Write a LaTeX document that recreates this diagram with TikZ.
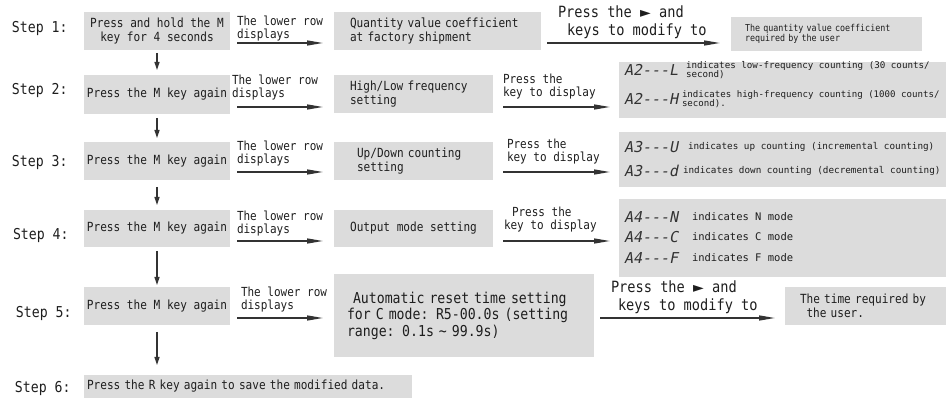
\documentclass[tikz,border=0pt]{standalone}
\usepackage{fontspec}
\usetikzlibrary{arrows.meta}
\newfontfamily\mf[FakeStretch=0.88]{DejaVu Sans Mono}
\newfontfamily\mfw{DejaVu Sans Mono}
\newfontfamily\segf[FakeSlant=0.2]{DejaVu Sans Mono}
\newfontfamily\dvs{DejaVu Sans}
\definecolor{boxgray}{HTML}{DCDCDC}
\definecolor{ink}{HTML}{1E1E1E}
\definecolor{arr}{HTML}{333333}
\newcommand\fs[2]{\fontsize{#1}{#2}\selectfont}
\newcommand\tri{{\dvs\fs{14}{12}►}}
\begin{document}
\begin{tikzpicture}[x=1pt,y=-1pt]
\tikzset{
  every node/.style={text=ink, inner sep=0pt, outer sep=0pt},
  box/.style={fill=boxgray, anchor=north west},
  steplbl/.style={anchor=west, font=\mf\fs{15}{16}},
  btxt/.style={font=\mf\fs{12.6}{14}},
  lbl/.style={anchor=west, align=left, font=\mf\fs{12.5}{13}},
  biglbl/.style={anchor=west, align=left, font=\mf\fs{15.5}{18}},
  codetxt/.style={anchor=west, font=\segf\fs{15}{16}, text=arr},
  small/.style={anchor=west, align=left, font=\mfw\fs{9.2}{9}},
  harrow/.style={draw=arr, line width=1.4pt, -{Triangle[length=16pt,width=5pt]}},
  varrow/.style={draw=arr, line width=1.3pt, -{Triangle[length=8pt,width=5pt]}},
}
\useasboundingbox (0,0) rectangle (946,398);

% step labels
\node[steplbl] (s1) at (12,28) {Step 1:};
\node[steplbl] (s2) at (12,90) {Step 2:};
\node[steplbl] (s3) at (12,162) {Step 3:};
\node[steplbl] (s4) at (13,235) {Step 4:};
\node[steplbl] (s5) at (16,313) {Step 5:};
\node[steplbl] (s6) at (15,388) {Step 6:};

% left boxes
\node[box, minimum width=146pt, minimum height=38pt, align=center, btxt] (b1) at (84,12) {Press and hold the M\\key for 4 seconds};
\node[box, minimum width=146pt, minimum height=39pt, btxt] (b2) at (84,75) {Press the M key again};
\node[box, minimum width=146pt, minimum height=38pt, btxt] (b3) at (84,142) {Press the M key again};
\node[box, minimum width=146pt, minimum height=37pt, btxt] (b4) at (84,210) {Press the M key again};
\node[box, minimum width=146pt, minimum height=38pt, btxt] (b5) at (84,287) {Press the M key again};
\node[box, minimum width=328pt, minimum height=23pt, text width=322pt, align=left, btxt] (b6) at (84,375) {Press the R key again to save the modified data.};

% vertical arrows
\draw[varrow, shorten <=3pt, shorten >=5pt] (b1) -- (b2);
\draw[varrow, shorten <=4pt, shorten >=4pt] (b2) -- (b3);
\draw[varrow, shorten <=7pt, shorten >=5pt] (b3) -- (b4);
\draw[varrow, shorten <=4pt, shorten >=2pt] (b4) -- (b5);
\draw[varrow, shorten <=7pt, shorten >=10pt] (b5.south) -- (b5.south |- b6.north);

% middle boxes
\node[box, minimum width=207pt, minimum height=38pt, text width=175pt, align=left, btxt] (m1) at (334,12) {Quantity value coefficient\\at factory shipment};
\node[box, minimum width=159pt, minimum height=38pt, text width=127pt, align=left, btxt] (m2) at (334,75) {High/Low frequency\\setting};
\node[box, minimum width=159pt, minimum height=38pt, text width=113pt, align=left, btxt] (m3) at (334,142) {Up/Down counting\\setting};
\node[box, minimum width=159pt, minimum height=37pt, btxt] (m4) at (334,210) {Output mode setting};
\node[box, minimum width=260pt, minimum height=83pt, text width=234pt, align=left, font=\mf\fs{15}{16.5}] (m5) at (334,274) {\hspace*{6pt}Automatic reset time setting\\for C mode: R5-00.0s (setting\\range: 0.1s \textasciitilde{} 99.9s)};

% right boxes
\node[box, minimum width=191pt, minimum height=34pt, text width=163pt, align=left, font=\mf\fs{9.5}{10}] (r1) at (731,17) {The quantity value coefficient\\required by the user};
\node[box, minimum width=327pt, minimum height=56pt] (r2) at (619,62) {};
\node[box, minimum width=327pt, minimum height=55pt] (r3) at (619,132) {};
\node[box, minimum width=327pt, minimum height=78pt] (r4) at (619,199) {};
\node[box, minimum width=161pt, minimum height=38pt, text width=131pt, align=left, btxt] (r5) at (785,287) {The time required by\\\hspace*{6.5pt}the user.};

% contents of display boxes
\node[codetxt] (c21) at (624,70) {A2---L};
\node[codetxt] (c22) at (624,99) {A2---H};
\node[small] (d21) at (686,70) {indicates low-frequency counting (30 counts/\\second)};
\node[small, font=\mfw\fs{9.1}{9}] (d22) at (682,99) {indicates high-frequency counting (1000 counts/\\second).};
\node[codetxt] (c31) at (624,147) {A3---U};
\node[codetxt] (c32) at (624,171) {A3---d};
\node[small, font=\mfw\fs{9.3}{10}] (d31) at (688,147) {indicates up counting (incremental counting)};
\node[small, font=\mfw\fs{9.3}{10}] (d32) at (683,171) {indicates down counting (decremental counting)};
\node[codetxt] (c41) at (624,217) {A4---N};
\node[codetxt] (c42) at (624,237) {A4---C};
\node[codetxt] (c43) at (624,258) {A4---F};
\node[small, font=\mfw\fs{10.5}{11}] (d41) at (692,217) {indicates N mode};
\node[small, font=\mfw\fs{10.5}{11}] (d42) at (692,237) {indicates C mode};
\node[small, font=\mfw\fs{10.5}{11}] (d43) at (692,258) {indicates F mode};

% row levels
\coordinate (y1) at (0,43);
\coordinate (y2) at (0,107);
\coordinate (y3) at (0,172);
\coordinate (y4) at (0,241);
\coordinate (y5) at (0,318);

% left -> middle arrows
\draw[harrow, shorten <=7pt, shorten >=11pt] (b1.east |- y1) -- (m1.west |- y1);
\draw[harrow, shorten <=7pt, shorten >=11pt] (b2.east |- y2) -- (m2.west |- y2);
\draw[harrow, shorten <=7pt, shorten >=11pt] (b3.east |- y3) -- (m3.west |- y3);
\draw[harrow, shorten <=7pt, shorten >=11pt] (b4.east |- y4) -- (m4.west |- y4);
\draw[harrow, shorten <=7pt, shorten >=11pt] (b5.east |- y5) -- (m5.west |- y5);
\node[lbl] (l1) at (237,28.5) {The lower row\\displays};
\node[lbl] (l2) at (232,87.5) {The lower row\\displays};
\node[lbl] (l3) at (237,154) {The lower row\\displays};
\node[lbl] (l4) at (237,224) {The lower row\\displays};
\node[lbl] (l5) at (241,299.5) {The lower row\\displays};

% middle -> right arrows
\draw[harrow, shorten <=6pt, shorten >=11pt] (m1.east |- y1) -- (r1.west |- y1);
\draw[harrow, shorten <=10pt, shorten >=9pt] (m2.east |- y2) -- (r2.west |- y2);
\draw[harrow, shorten <=10pt, shorten >=9pt] (m3.east |- y3) -- (r3.west |- y3);
\draw[harrow, shorten <=10pt, shorten >=9pt] (m4.east |- y4) -- (r4.west |- y4);
\draw[harrow, shorten <=6pt, shorten >=10pt] (m5.east |- y5) -- (r5.west |- y5);
\node[biglbl] (k1) at (558,22.5) {Press the \tri{} and\\\hspace*{9pt}keys to modify to};
\node[lbl] (k2) at (503,86.5) {Press the\\key to display};
\node[lbl] (k3) at (507,151.5) {Press the\\key to display};
\node[lbl] (k4) at (504,220) {\hspace*{8pt}Press the\\key to display};
\node[biglbl] (k5) at (611,297.5) {Press the \tri{} and\\\hspace*{7pt}keys to modify to};
\end{tikzpicture}
\end{document}
